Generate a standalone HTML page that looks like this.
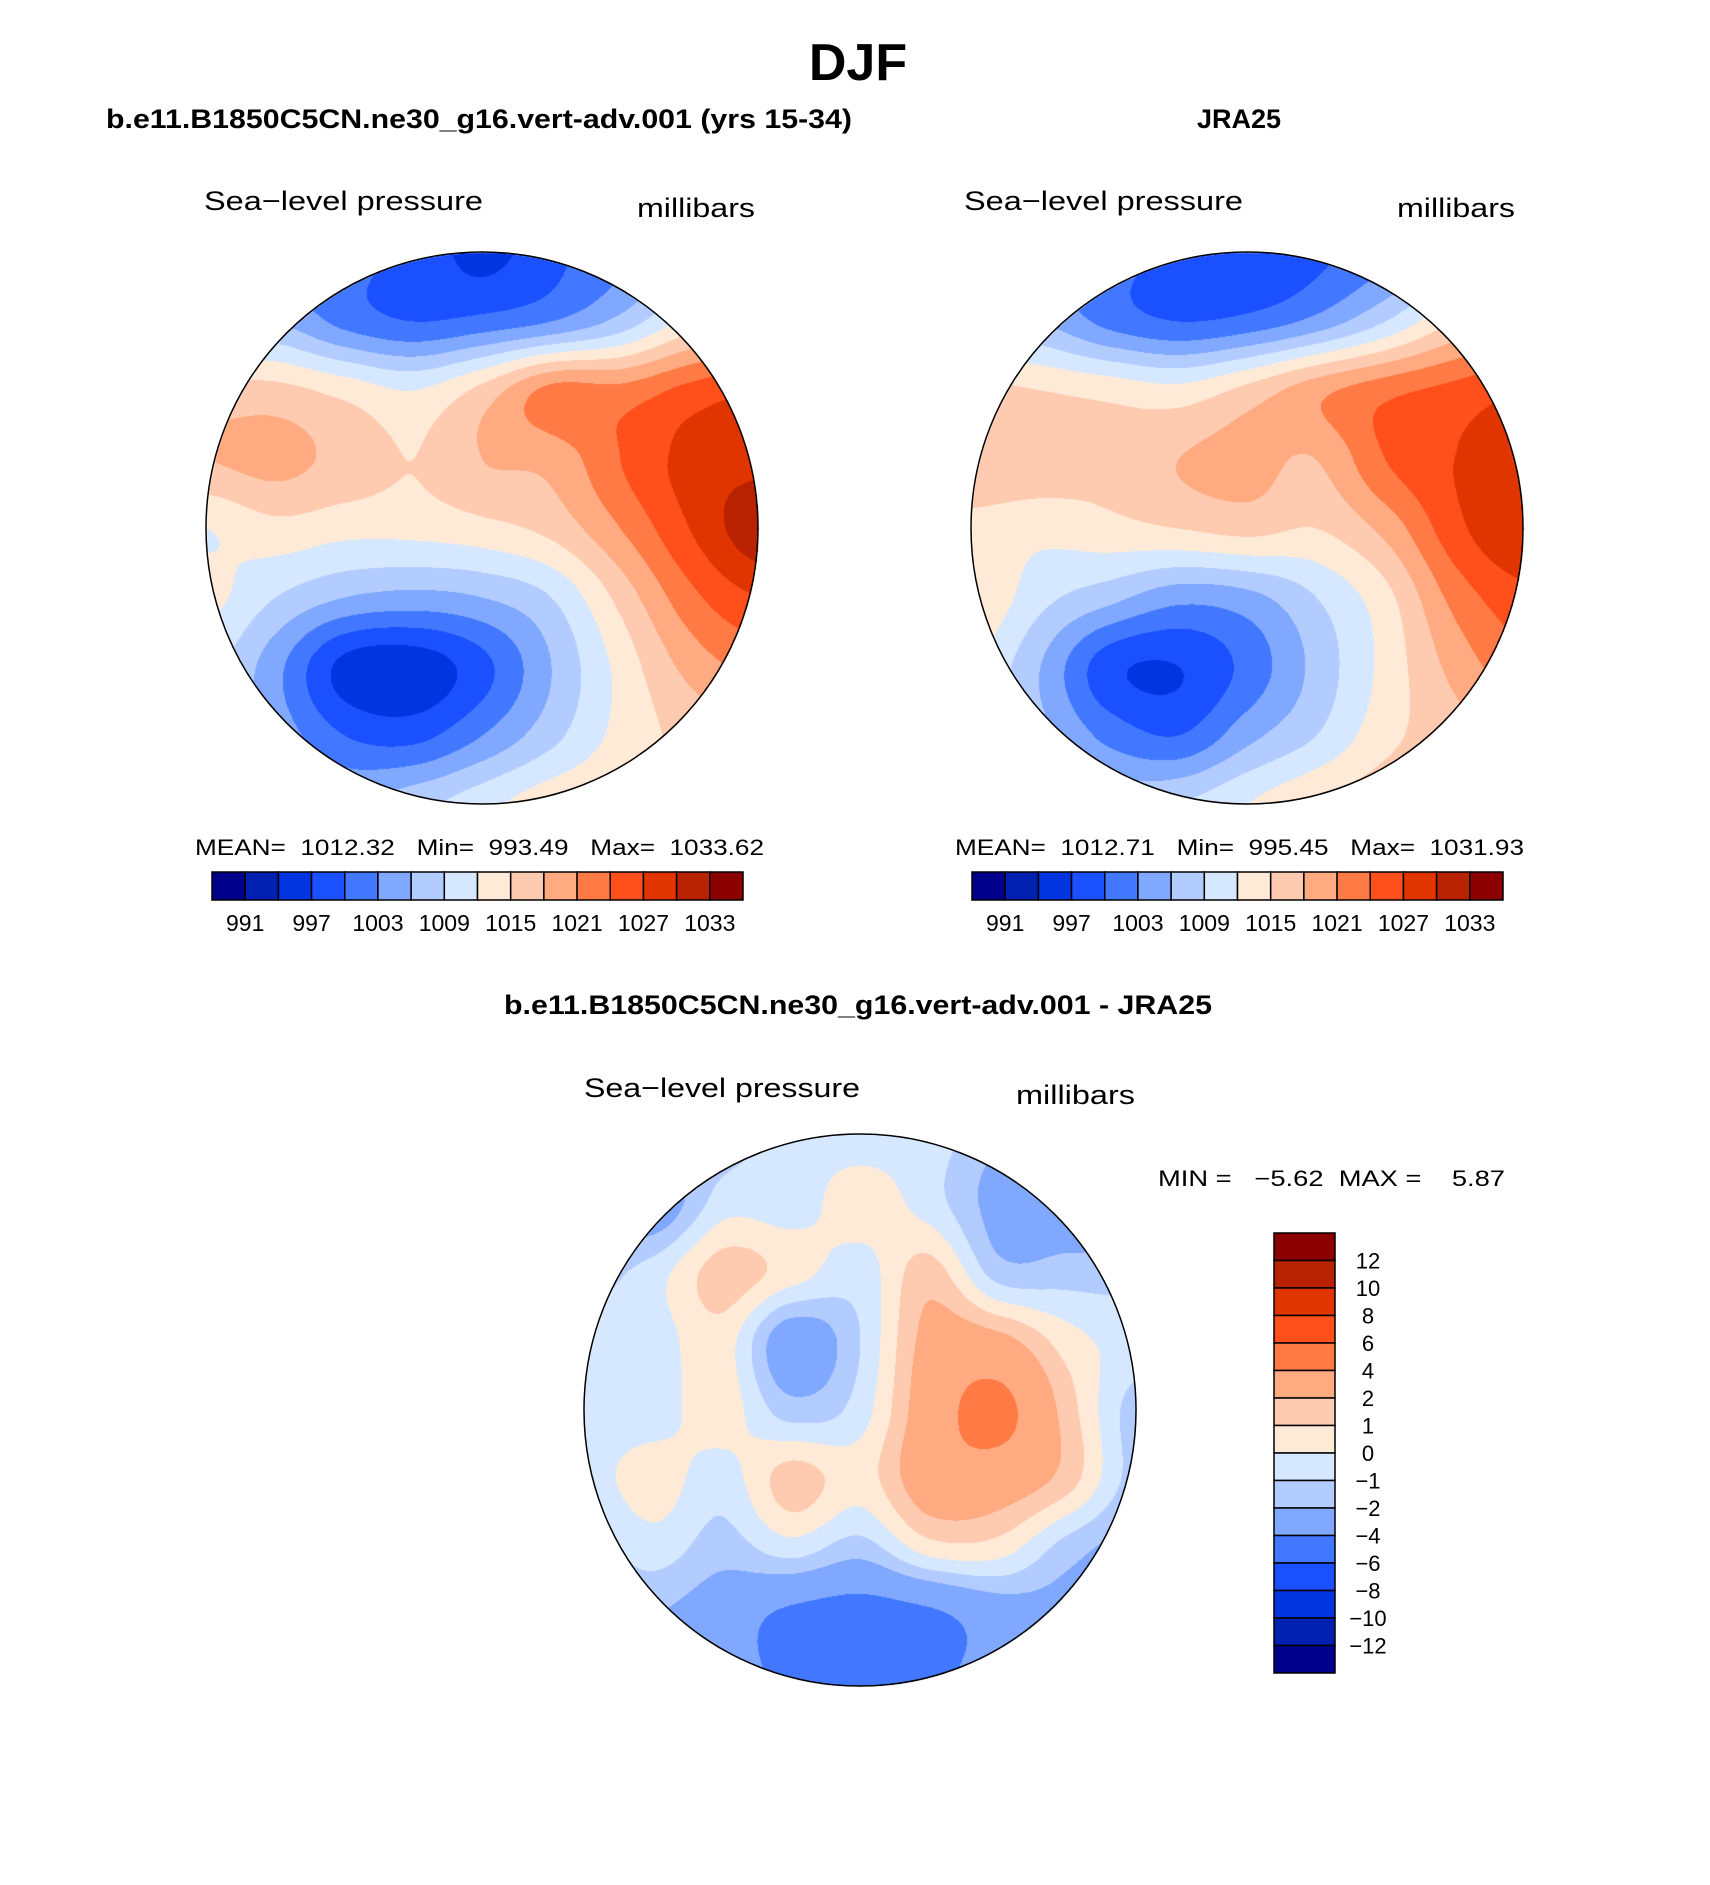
<!DOCTYPE html>
<html><head><meta charset="utf-8"><style>
html,body{margin:0;padding:0;background:#fff;}
#root{position:relative;width:1710px;height:1885px;overflow:hidden;font-family:"Liberation Sans",sans-serif;}
canvas{position:absolute;}
svg{position:absolute;left:0;top:0;}
svg text{white-space:pre;}
</style></head><body>
<div id="root">
<canvas id="m1" width="560" height="560" style="left:202px;top:248px"></canvas>
<canvas id="m2" width="560" height="560" style="left:967px;top:248px"></canvas>
<canvas id="m3" width="560" height="560" style="left:580px;top:1130px"></canvas>
<svg id="ov" width="1710" height="1885">
<text x="858" y="80" text-anchor="middle" font-size="52" font-weight="bold">DJF</text>
<text x="106" y="128" font-size="27" font-weight="bold" textLength="746" lengthAdjust="spacingAndGlyphs">b.e11.B1850C5CN.ne30_g16.vert-adv.001 (yrs 15-34)</text>
<text x="1239" y="128" text-anchor="middle" font-size="27" font-weight="bold">JRA25</text>
<text x="204" y="210" font-size="27" textLength="279" lengthAdjust="spacingAndGlyphs">Sea−level pressure</text>
<text x="637" y="217" font-size="27" textLength="118" lengthAdjust="spacingAndGlyphs">millibars</text>
<text x="964" y="210" font-size="27" textLength="279" lengthAdjust="spacingAndGlyphs">Sea−level pressure</text>
<text x="1397" y="217" font-size="27" textLength="118" lengthAdjust="spacingAndGlyphs">millibars</text>
<text x="195" y="855" font-size="22" textLength="569" lengthAdjust="spacingAndGlyphs">MEAN=  1012.32   Min=  993.49   Max=  1033.62</text>
<text x="955" y="855" font-size="22" textLength="569" lengthAdjust="spacingAndGlyphs">MEAN=  1012.71   Min=  995.45   Max=  1031.93</text>
<text x="858" y="1014" text-anchor="middle" font-size="27" font-weight="bold" textLength="708" lengthAdjust="spacingAndGlyphs">b.e11.B1850C5CN.ne30_g16.vert-adv.001 - JRA25</text>
<text x="584" y="1097" font-size="27" textLength="276" lengthAdjust="spacingAndGlyphs">Sea−level pressure</text>
<text x="1016" y="1104" font-size="27" textLength="119" lengthAdjust="spacingAndGlyphs">millibars</text>
<text x="1158" y="1186" font-size="22" textLength="347" lengthAdjust="spacingAndGlyphs">MIN =   −5.62  MAX =    5.87</text>
<g id="cb1"></g>
<g id="cb2"></g>
<g id="cb3"></g>
<circle cx="482" cy="528" r="276" fill="none" stroke="#000" stroke-width="1.5"/>
<circle cx="1247" cy="528" r="276" fill="none" stroke="#000" stroke-width="1.5"/>
<circle cx="860" cy="1410" r="276" fill="none" stroke="#000" stroke-width="1.5"/>
</svg>
</div>
<script>
// colour palettes
const slpColors = ["#00008b","#0020b0","#0035e0","#1a50ff","#4178ff","#80a8ff","#b3ccff","#d6e8ff","#ffead8","#ffcbb0","#ffaa80","#ff7a45","#ff4f1a","#e03500","#b82200","#8b0000"];
// contour levels
const slpLevels = [991,994,997,1000,1003,1006,1009,1012,1015,1018,1021,1024,1027,1030,1033];
const slpTickLabels = ["991","997","1003","1009","1015","1021","1027","1033"];
const diffLevels = [-12,-10,-8,-6,-4,-2,-1,0,1,2,4,6,8,10,12];
const diffTickLabels = ["12","10","8","6","4","2","1","0","−1","−2","−4","−6","−8","−10","−12"];
// field grids (9x9 over map bounding square, rows top->bottom)
const modelField = [
[1003,1002,1001,999,996,999,1002,1005,1010],
[1006,1006,1002,1000,1001,1003,1007,1013,1016],
[1016,1016,1014,1012,1016,1022,1022,1025,1027],
[1018,1019,1017,1015,1018,1019,1024,1028,1029],
[1012,1014,1013,1013,1014,1016,1021,1027,1032],
[1013,1009,1006,1005,1006,1009,1016,1023,1027],
[1010,1004,996,995,999,1006,1013,1019,1022],
[1009,1005,1000,999,1003,1008,1013,1016,1018],
[1009,1008,1006,1008,1011,1014,1015,1016,1017]];
const jraField = [
[1003,1002,1001,999,997,999,1002,1006,1011],
[1007,1006,1002,1000,1001,1004,1009,1015,1018],
[1016,1015,1014,1013,1016,1020,1023,1025,1027],
[1018,1017,1016,1018,1019,1018,1024,1027,1028],
[1014,1013,1014,1015,1016,1015,1019,1026,1030],
[1015,1010,1007,1004,1005,1009,1014,1022,1026],
[1012,1006,998,997,1001,1007,1013,1019,1023],
[1010,1007,1002,1000,1005,1009,1014,1017,1019],
[1011,1010,1008,1009,1012,1015,1017,1018,1019]];
const diffField = [
[-1.5,-1.5,-1.5,-0.5,-0.5,-0.5,-2,-3,-3],
[-2,-3,-0.5,-0.5,0.5,-0.5,-2.5,-3,-3],
[-1.5,-0.5,1.5,0.5,-0.5,1.5,-1.5,-1.5,-1.5],
[-0.5,-0.5,0.5,-3,-1,2.5,2.5,0.5,-0.5],
[-0.5,-0.5,0.5,-1.5,-0.5,3,4.5,1.5,-1.5],
[-0.5,0.5,-0.5,1.5,0.5,3,3,1.5,-1.5],
[-1.5,-0.5,-1.5,-0.5,-1.5,0.5,0.5,-1.5,-2.5],
[-2,-2,-3,-4.5,-5,-4.5,-3,-2.5,-2.5],
[-2,-2,-3,-4.5,-5,-4.5,-3,-2.5,-2.5]];

function levelIndex(v, levels){let i=0;while(i<levels.length&&v>=levels[i])i++;return i;}
function hex(c){return [parseInt(c.substr(1,2),16),parseInt(c.substr(3,2),16),parseInt(c.substr(5,2),16)];}
function cr(p0,p1,p2,p3,t){return 0.5*((2*p1)+(-p0+p2)*t+(2*p0-5*p1+4*p2-p3)*t*t+(-p0+3*p1-3*p2+p3)*t*t*t);}
function sample(f,u,v){
  const n=f.length-1, cl=k=>Math.max(0,Math.min(n,k));
  const i=Math.min(Math.floor(v),n-1), j=Math.min(Math.floor(u),n-1), fu=u-j, fv=v-i;
  const rows=[];
  for(let a=-1;a<=2;a++){const r=f[cl(i+a)];rows.push(cr(r[cl(j-1)],r[cl(j)],r[cl(j+1)],r[cl(j+2)],fu));}
  return cr(rows[0],rows[1],rows[2],rows[3],fv);
}
function drawMap(id, field, levels, cx, cy){
  const cv=document.getElementById(id), ctx=cv.getContext('2d');
  const W=cv.width, img=ctx.createImageData(W,W), n=field.length-1, R=276;
  const rgb=slpColors.map(hex);
  for(let y=0;y<W;y++)for(let x=0;x<W;x++){
    const dx=x-cx, dy=y-cy; if(dx*dx+dy*dy>R*R) continue;
    const u=Math.min(Math.max((x-(cx-R))/(2*R),0),1)*n, v=Math.min(Math.max((y-(cy-R))/(2*R),0),1)*n;
    const val=sample(field,u,v);
    const c=rgb[levelIndex(val,levels)], k=(y*W+x)*4;
    img.data[k]=c[0];img.data[k+1]=c[1];img.data[k+2]=c[2];img.data[k+3]=255;
  }
  ctx.putImageData(img,0,0);
}
drawMap('m1',modelField,slpLevels,280,280);
drawMap('m2',jraField,slpLevels,280,280);
drawMap('m3',diffField,diffLevels,280,280);

const NS='http://www.w3.org/2000/svg';
function hbar(gid,x0){
  const g=document.getElementById(gid), w=(744-213)/16;
  slpColors.forEach((c,i)=>{
    const r=document.createElementNS(NS,'rect');
    r.setAttribute('x',x0+i*w);r.setAttribute('y',872);r.setAttribute('width',w);r.setAttribute('height',28);
    r.setAttribute('fill',c);r.setAttribute('stroke','#000');r.setAttribute('stroke-width','1.5');
    
    
    g.appendChild(r);
  });
  slpTickLabels.forEach((t,i)=>{
    const e=document.createElementNS(NS,'text');
    e.setAttribute('x',x0+(1+2*i)*w);e.setAttribute('y',931);e.setAttribute('text-anchor','middle');e.setAttribute('font-size','23');
    e.textContent=t;
    
    
    g.appendChild(e);
  });
}
hbar('cb1',212);hbar('cb2',972);
(function(){
  const g=document.getElementById('cb3'), h=(1673-1233)/16;
  slpColors.slice().reverse().forEach((c,i)=>{
    const r=document.createElementNS(NS,'rect');
    r.setAttribute('x',1274);r.setAttribute('y',1233+i*h);r.setAttribute('width',61);r.setAttribute('height',h);
    r.setAttribute('fill',c);r.setAttribute('stroke','#000');r.setAttribute('stroke-width','1.5');
    
    
    g.appendChild(r);
  });
  diffTickLabels.forEach((t,i)=>{
    const e=document.createElementNS(NS,'text');
    e.setAttribute('x',1368);e.setAttribute('y',1233+(i+1)*h+8);e.setAttribute('text-anchor','middle');e.setAttribute('font-size','22');
    e.textContent=t;
    
    
    g.appendChild(e);
  });
})();
</script>
</body></html>
